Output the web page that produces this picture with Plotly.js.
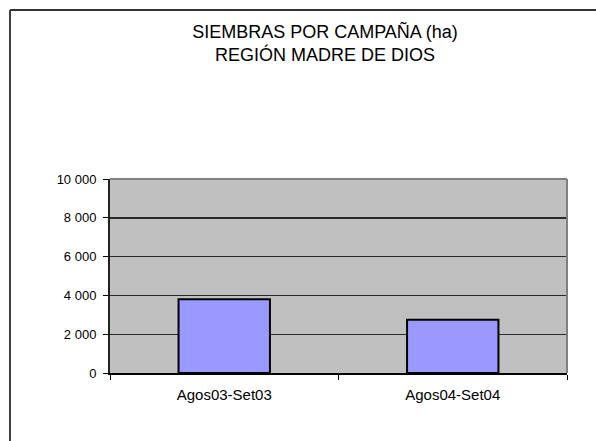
<!DOCTYPE html>
<html>
<head>
<meta charset="utf-8">
<script src="https://cdn.plot.ly/plotly-3.0.1.min.js"></script>
<style>
html,body{margin:0;padding:0;background:#fff;}
#chart{width:596px;height:441px;}
</style>
</head>
<body>
<div id="chart"></div>
<script>
const categories = ["Agos03-Set03", "Agos04-Set04"];
const siembras = [3800, 2750];
const yTicks = [0, 2000, 4000, 6000, 8000, 10000];

const FONT = "Arial, 'Liberation Sans', sans-serif";

const trace = {
  type: "bar",
  x: categories,
  y: siembras,
  width: 0.4,
  marker: { color: "#9999FF", line: { color: "#000000", width: 2 } },
  hoverinfo: "x+y"
};

const layout = {
  width: 596,
  height: 441,
  margin: { l: 110, r: 29, t: 179, b: 68, pad: 0 },
  paper_bgcolor: "#ffffff",
  plot_bgcolor: "#C0C0C0",
  separators: ", ",
  showlegend: false,
  title: {
    text: "SIEMBRAS POR CAMPAÑA (ha)<br>REGIÓN MADRE DE DIOS",
    font: { family: FONT, size: 18, color: "#000" },
    xref: "container", x: 325 / 596, xanchor: "center",
    yref: "container", y: 1 - 38 / 441, yanchor: "top"
  },
  xaxis: {
    type: "category",
    tickson: "boundaries",
    ticks: "outside",
    ticklen: 5,
    tickcolor: "#000",
    tickwidth: 1,
    ticklabelstandoff: 7,
    showline: true,
    linecolor: "#000",
    linewidth: 1.5,
    showgrid: false,
    range: [-0.5, 1.5],
    tickfont: { family: FONT, size: 15, color: "#000" },
    fixedrange: true
  },
  yaxis: {
    range: [0, 10000],
    tickvals: yTicks,
    tickformat: ",",
    ticks: "outside",
    ticklen: 5,
    tickcolor: "#000",
    ticklabelstandoff: 4,
    showline: true,
    linecolor: "#222",
    linewidth: 2,
    showgrid: true,
    gridcolor: "#2a2a2a",
    gridwidth: 1.4,
    zeroline: false,
    tickfont: { family: FONT, size: 13, color: "#000" },
    fixedrange: true
  },
  shapes: [
    { type: "line", xref: "paper", yref: "paper", x0: 0, x1: 1, y0: 1, y1: 1,
      line: { color: "#808080", width: 2 } },
    { type: "line", xref: "paper", yref: "paper", x0: 1, x1: 1, y0: 0, y1: 1,
      line: { color: "#808080", width: 2 } },
    { type: "line", xref: "paper", yref: "paper",
      x0: (10 - 110) / 457, x1: (10 - 110) / 457,
      y0: (373 - 450) / 194, y1: (373 - 10) / 194,
      line: { color: "#000000", width: 1.5 } },
    { type: "line", xref: "paper", yref: "paper",
      x0: (10 - 110) / 457, x1: (610 - 110) / 457,
      y0: (373 - 10) / 194, y1: (373 - 10) / 194,
      line: { color: "#333333", width: 2 } }
  ]
};

Plotly.newPlot("chart", [trace], layout, { displayModeBar: false, staticPlot: true });
</script>
</body>
</html>
